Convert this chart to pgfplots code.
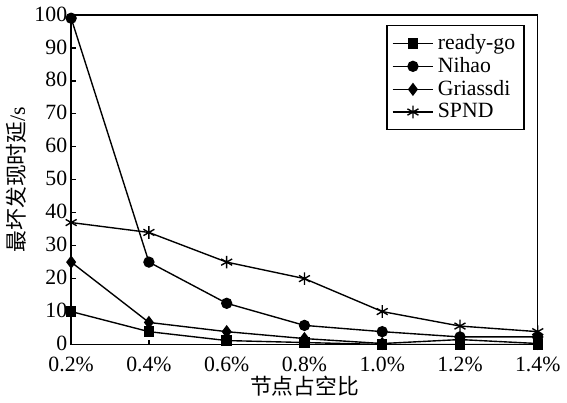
\documentclass[border=0pt]{standalone}
\usepackage{fontspec}
\setmainfont{Liberation Serif}
\newfontfamily\cjk{Noto Sans CJK SC}
\usepackage{pgfplots}
\pgfplotsset{compat=1.18}

\begin{document}
\begin{tikzpicture}
\begin{axis}[
    scale only axis,
    width=235bp, height=166bp,
    xmin=0, xmax=6,
    ymin=0, ymax=100,
    xtick={0,1,2,3,4,5,6},
    xticklabels={0.2\%,0.4\%,0.6\%,0.8\%,1.0\%,1.2\%,1.4\%},
    ytick={0,10,...,100},
    tick pos=left,
    tick align=inside,
    major tick length=2.5bp,
    axis line style={line width=0.7pt},
    every tick/.style={line width=0.7pt, black},
    tick label style={font=\fontsize{11}{12}\selectfont},
    /pgf/number format/assume math mode=true,
    xticklabel style={yshift=-3pt},
    yticklabel style={xshift=1.5pt, yshift=0.5pt},
    xlabel={\cjk 节点占空比},
    ylabel={\cjk 最坏发现时延\rmfamily/s},
    xlabel style={yshift=5pt},
    ylabel style={yshift=-3pt},
    label style={font=\fontsize{11}{12}\selectfont},
    legend style={
        at={(0.972,0.97)}, anchor=north east,
        draw=black, line width=0.6pt,
        font=\fontsize{11}{10.5}\selectfont,
        row sep=-1.5pt, inner sep=2.5pt,
        legend cell align=left,
    },
    legend image code/.code={%
        \draw[mark repeat=2, mark phase=2, line width=0.7pt]
            plot coordinates {(0cm,0cm) (0.36cm,0cm) (0.72cm,0cm)};},
    every axis plot/.append style={line width=0.7pt, black, mark options={solid, fill=black}},
]

\addplot[mark=square*, mark size=2.3pt] coordinates {
    (0,10) (1,3.9) (2,1.2) (3,0.6) (4,0) (5,0) (6,0)
};
\addlegendentry{ready-go}

\addplot[mark=*, mark size=2.5pt] coordinates {
    (0,99) (1,25) (2,12.5) (3,5.8) (4,3.9) (5,2.3) (6,2.3)
};
\addlegendentry{Nihao}

\addplot[mark=diamond*, mark size=2.8pt] coordinates {
    (0,25) (1,6.7) (2,3.9) (3,1.8) (4,0.3) (5,1.5) (6,0.3)
};
\addlegendentry{Griassdi}

\addplot[mark=asterisk, mark size=3.2pt] coordinates {
    (0,37) (1,34) (2,25) (3,20) (4,10) (5,5.6) (6,3.9)
};
\addlegendentry{SPND}

\end{axis}
\end{tikzpicture}
\end{document}
